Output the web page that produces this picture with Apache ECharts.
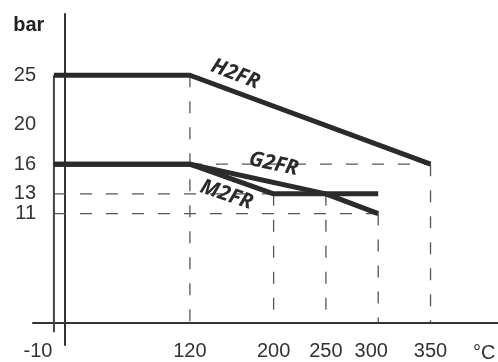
<!DOCTYPE html>
<html>
<head>
<meta charset="utf-8">
<script src="https://cdn.jsdelivr.net/npm/echarts@6/dist/echarts.min.js"></script>
<style>html,body{margin:0;padding:0;background:#fff}#c{width:498px;height:362px}</style>
</head>
<body>
<div id="c"></div>
<script>
// ---- data ----
var xTicks = [-10, 120, 200, 250, 300, 350];
var yTicks = [11, 13, 16, 20, 25];

var seriesNames = ['H2FR', 'G2FR', 'M2FR'];
var h2frX = [-10, 120, 350];
var h2frY = [25, 25, 16];
var g2frX = [-10, 120, 250, 300];
var g2frY = [16, 16, 13, 11];
var m2frX = [-10, 120, 200, 300];
var m2frY = [16, 16, 13, 13];

// label anchors (data coordinates) for the curve names
var labelX = [163.5, 200, 155];
var labelY = [25.1, 16.0, 12.9];
var labelRot = [-21, -12, -19];

// vertical solid reference at -10
var refX = [-10, -10];
var refY = [-1, 25];

// dashed guide segments: [x1, y1, x2, y2]
var guideX1 = [120, 120, 350, -10, -10, 200, 250, 300];
var guideY1 = [25, 16, 16, 13, 11, 13, 13, 11];
var guideX2 = [120, 350, 350, 200, 300, 200, 250, 300];
var guideY2 = [0, 16, 0, 13, 11, 0, 0, 0];

function zip(xs, ys) { return xs.map(function (x, i) { return [x, ys[i]]; }); }

var curves = [zip(h2frX, h2frY), zip(g2frX, g2frY), zip(m2frX, m2frY)];
var ink = '#2b2b2b';

var series = [];
guideX1.forEach(function (x1, i) {
  series.push({
    type: 'line', silent: true, symbol: 'none', z: 1,
    data: [[x1, guideY1[i]], [guideX2[i], guideY2[i]]],
    lineStyle: { color: '#555', width: 1.3, type: [12, 14] }
  });
});
series.push({
  type: 'line', silent: true, symbol: 'none', z: 2,
  data: zip(refX, refY),
  lineStyle: { color: '#444', width: 2 }
});
curves.forEach(function (d, i) {
  series.push({
    name: seriesNames[i], type: 'line', symbol: 'none', z: 3,
    data: d,
    lineStyle: { color: ink, width: 5 },
    markPoint: {
      symbol: 'circle', symbolSize: 0,
      data: [{ coord: [labelX[i], labelY[i]], value: seriesNames[i] }],
      label: {
        show: true, position: 'inside', formatter: seriesNames[i],
        rotate: labelRot[i], color: ink, fontSize: 21,
        fontWeight: 'bold', fontStyle: 'italic', fontFamily: 'Open Sans'
      }
    }
  });
});

var yLabelStyle = {
  margin: -3, fontSize: 20, color: '#333',
  fontFamily: 'Liberation Sans', hideOverlap: false,
  showMinLabel: true, showMaxLabel: true
};
// split alternate tick labels over two co-located axes so ECharts does not drop close ones
var yTicksA = yTicks.filter(function (v, i) { return i % 2 === 0; });
var yTicksB = yTicks.filter(function (v, i) { return i % 2 === 1; });

var chart = echarts.init(document.getElementById('c'), null, { renderer: 'canvas' });
chart.setOption({
  animation: false,
  backgroundColor: '#fff',
  grid: { left: 33, right: 0, top: 14, bottom: 17, containLabel: false, outerBoundsMode: 'none' },
  xAxis: {
    type: 'value', min: -30, max: 414.5,
    axisLine: { onZero: true, lineStyle: { color: '#333', width: 2 } },
    axisTick: { show: false },
    splitLine: { show: false },
    name: '°C', nameLocation: 'end', nameGap: -25,
    nameTextStyle: { align: 'left', verticalAlign: 'top', padding: [21, 0, 0, 0],
      fontSize: 20, color: '#333', fontFamily: 'Liberation Sans' },
    axisLabel: {
      customValues: xTicks, margin: -4, fontSize: 20, color: '#333',
      fontFamily: 'Liberation Sans', hideOverlap: false,
      showMinLabel: true, showMaxLabel: true,
      formatter: function (v) {
        if (v === -10) return '{a|' + v + '}';
        if (v === 300) return '{b|' + v + '}';
        return String(v);
      },
      rich: {
        a: { fontSize: 20, color: '#333', fontFamily: 'Liberation Sans', padding: [0, 32, 0, 0] },
        b: { fontSize: 20, color: '#333', fontFamily: 'Liberation Sans', padding: [0, 14, 0, 0] }
      }
    }
  },
  yAxis: [{
    type: 'value', min: -2.3, max: 31.2,
    axisLine: { show: true, onZero: true, lineStyle: { color: '#333', width: 2 } },
    axisTick: { show: false },
    splitLine: { show: false },
    name: 'bar', nameLocation: 'end', nameGap: -11,
    nameTextStyle: { align: 'right', verticalAlign: 'middle', padding: [0, 20, 0, 0],
      fontSize: 20, fontWeight: 'bold', color: '#222', fontFamily: 'Liberation Sans' },
    axisLabel: Object.assign({ customValues: yTicksA }, yLabelStyle)
  }, {
    type: 'value', min: -2.3, max: 31.2, position: 'left', offset: 0,
    axisLine: { show: false },
    axisTick: { show: false },
    splitLine: { show: false },
    axisLabel: Object.assign({ customValues: yTicksB }, yLabelStyle)
  }],
  series: series
});
</script>
</body>
</html>
